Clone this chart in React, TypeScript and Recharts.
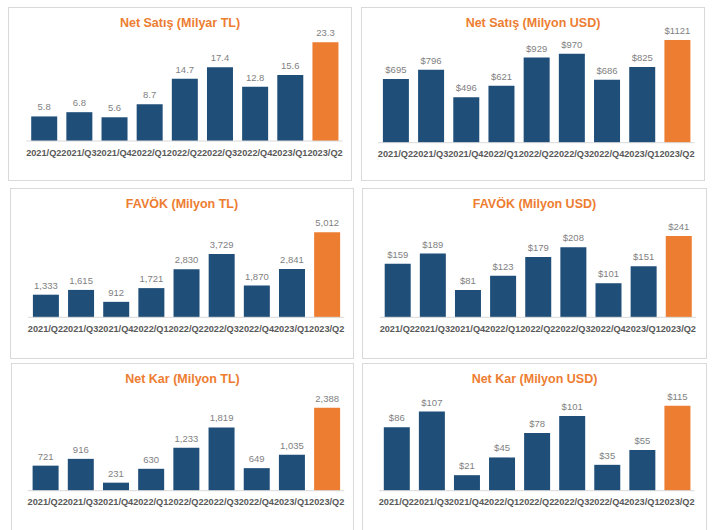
import { Bar, BarChart, Cell, LabelList, XAxis, YAxis } from 'recharts'

const QUARTERS = ['2021/Q2', '2021/Q3', '2021/Q4', '2022/Q1', '2022/Q2', '2022/Q3', '2022/Q4', '2023/Q1', '2023/Q2']

const NET_SALES_TL = [5.8, 6.8, 5.6, 8.7, 14.7, 17.4, 12.8, 15.6, 23.3]
const NET_SALES_USD = [695, 796, 496, 621, 929, 970, 686, 825, 1121]
const EBITDA_TL = [1333, 1615, 912, 1721, 2830, 3729, 1870, 2841, 5012]
const EBITDA_USD = [159, 189, 81, 123, 179, 208, 101, 151, 241]
const NET_PROFIT_TL = [721, 916, 231, 630, 1233, 1819, 649, 1035, 2388]
const NET_PROFIT_USD = [86, 107, 21, 45, 78, 101, 35, 55, 115]

const BLUE = '#1F4E79'
const ORANGE = '#ED7D31'
const FONT = '"Liberation Sans", Arial, sans-serif'

const fmtDec = (v: number) => v.toFixed(1)
const fmtThousands = (v: number) => v.toLocaleString('en-US')
const fmtUsd = (v: number) => `$${v}`

type Box = { x: number; y: number; w: number; h: number }
type Plot = { l: number; r: number; t: number; b: number }

function Panel({
  title,
  values,
  format,
  box,
  plot,
}: {
  title: string
  values: number[]
  format: (v: number) => string
  box: Box
  plot: Plot
}) {
  const data = QUARTERS.map((q, i) => ({ q, v: values[i] }))
  const axisH = 30
  const margin = {
    left: plot.l - box.x,
    right: box.x + box.w - plot.r,
    top: plot.t - box.y,
    bottom: box.y + box.h - plot.b - axisH,
  }
  return (
    <div
      style={{
        position: 'absolute',
        left: box.x,
        top: box.y,
        width: box.w,
        height: box.h,
        boxSizing: 'border-box',
        border: '1px solid #d9d9d9',
        background: '#fff',
      }}
    >
      <div
        style={{
          position: 'absolute',
          left: -1,
          top: 7,
          width: box.w,
          textAlign: 'center',
          color: ORANGE,
          fontWeight: 'bold',
          fontSize: 12.5,
          lineHeight: '16px',
          fontFamily: FONT,
        }}
      >
        {title}
      </div>
      <div style={{ position: 'absolute', left: -1, top: -1 }}>
        <BarChart width={box.w} height={box.h} data={data} margin={margin}>
          <XAxis
            dataKey="q"
            interval={0}
            tickLine={false}
            height={axisH}
            axisLine={{ stroke: '#d9d9d9' }}
            tick={{ fontSize: 9.2, fontWeight: 'bold', fill: '#595959', fontFamily: FONT }}
          />
          <YAxis hide domain={[0, 'dataMax']} />
          <Bar dataKey="v" barSize={26} isAnimationActive={false}>
            {data.map((d, i) => (
              <Cell key={d.q} fill={i === data.length - 1 ? ORANGE : BLUE} />
            ))}
            <LabelList
              dataKey="v"
              position="top"
              offset={6}
              formatter={(v: number) => format(v)}
              style={{ fontSize: 9.5, fill: '#7f7f7f', fontFamily: FONT }}
            />
          </Bar>
        </BarChart>
      </div>
    </div>
  )
}

export default function App() {
  return (
    <div
      style={{
        position: 'absolute',
        left: 0,
        top: 0,
        width: 715,
        height: 530,
        overflow: 'hidden',
        background: '#fff',
      }}
    >
      <Panel
        title="Net Satış (Milyar TL)"
        values={NET_SALES_TL}
        format={fmtDec}
        box={{ x: 8, y: 7, w: 344, h: 174 }}
        plot={{ l: 26.2, r: 342.6, t: 42.3, b: 141 }}
      />
      <Panel
        title="Net Satış (Milyon USD)"
        values={NET_SALES_USD}
        format={fmtUsd}
        box={{ x: 361, y: 7, w: 344, h: 174 }}
        plot={{ l: 377.9, r: 694.6, t: 40, b: 142.7 }}
      />
      <Panel
        title="FAVÖK (Milyon TL)"
        values={EBITDA_TL}
        format={fmtThousands}
        box={{ x: 10, y: 188, w: 344, h: 171 }}
        plot={{ l: 27.9, r: 344.3, t: 232.3, b: 317.3 }}
      />
      <Panel
        title="FAVÖK (Milyon USD)"
        values={EBITDA_USD}
        format={fmtUsd}
        box={{ x: 362, y: 188, w: 345, h: 171 }}
        plot={{ l: 379.7, r: 695.9, t: 236, b: 317.3 }}
      />
      <Panel
        title="Net Kar (Milyon TL)"
        values={NET_PROFIT_TL}
        format={fmtThousands}
        box={{ x: 11, y: 363, w: 343, h: 180 }}
        plot={{ l: 27.6, r: 344.3, t: 407.7, b: 490.7 }}
      />
      <Panel
        title="Net Kar (Milyon USD)"
        values={NET_PROFIT_USD}
        format={fmtUsd}
        box={{ x: 362, y: 363, w: 345, h: 180 }}
        plot={{ l: 378.8, r: 694.5, t: 405.7, b: 490.7 }}
      />
    </div>
  )
}
